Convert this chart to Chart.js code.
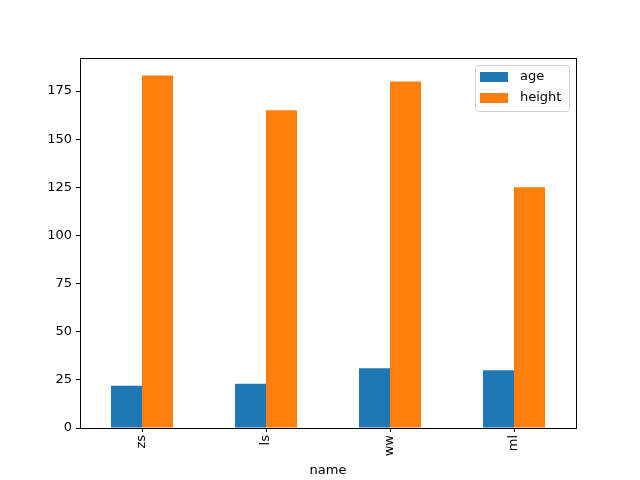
<!DOCTYPE html>
<html lang="en">
<head>
    <meta charset="UTF-8">
    <title>age / height by name</title>
    <script src="https://cdn.jsdelivr.net/npm/chart.js"></script>
    <style>
        html, body { margin: 0; padding: 0; background: #fff; }
    </style>
</head>
<body>
    <canvas id="barChart" width="640" height="480"></canvas>

    <script>
        const names = ['zs', 'ls', 'ww', 'ml'];
        const ages = [22, 23, 31, 30];
        const heights = [183, 165, 180, 125];
        const yTicks = [0, 25, 50, 75, 100, 125, 150, 175];

        const FONT = "'DejaVu Sans', sans-serif";

        // frame round the plot + legend box in the top right corner
        const framePlugin = {
            id: 'frame',
            afterDraw(chart) {
                const ctx = chart.ctx;
                const a = chart.chartArea;
                ctx.save();
                ctx.strokeStyle = '#000';
                ctx.lineWidth = 1;
                ctx.strokeRect(a.left + 0.5, a.top + 0.5, a.right - a.left, a.bottom - a.top);

                const boxW = 94, boxH = 46;
                const bx = a.right - 7 - boxW, by = a.top + 7;
                ctx.fillStyle = 'rgba(255,255,255,0.8)';
                ctx.strokeStyle = '#d0d0d0';
                ctx.beginPath();
                ctx.roundRect(bx + 0.5, by + 0.5, boxW, boxH, 3);
                ctx.fill();
                ctx.stroke();

                ctx.font = '13px ' + FONT;
                ctx.textBaseline = 'middle';
                chart.data.datasets.forEach((ds, i) => {
                    const y = by + 7 + i * 21;
                    ctx.fillStyle = ds.backgroundColor;
                    ctx.fillRect(bx + 5, y, 28, 10);
                    ctx.fillStyle = '#000';
                    ctx.fillText(ds.label, bx + 45, y + 5);
                });
                ctx.restore();
            }
        };

        new Chart(document.getElementById('barChart'), {
            type: 'bar',
            data: {
                labels: names,
                datasets: [
                    { label: 'age', data: ages, backgroundColor: '#1f77b4' },
                    { label: 'height', data: heights, backgroundColor: '#ff7f0e' }
                ]
            },
            options: {
                responsive: false,
                animation: false,
                devicePixelRatio: 1,
                layout: { padding: { left: 0, right: 64, top: 58, bottom: 0 } },
                datasets: { bar: { categoryPercentage: 0.5, barPercentage: 1.0 } },
                plugins: { legend: { display: false }, tooltip: { enabled: false } },
                scales: {
                    x: {
                        offset: true,
                        grid: { drawOnChartArea: false, drawTicks: true, tickLength: 4, color: '#000', offset: false },
                        border: { display: true, color: '#000' },
                        ticks: { color: '#000', font: { family: FONT, size: 13 }, minRotation: 90, maxRotation: 90, padding: 3 },
                        title: { display: true, text: 'name', color: '#000', font: { family: FONT, size: 13 }, padding: { top: 0, bottom: 2 } },
                        afterFit(scale) { scale.height = 52; }
                    },
                    y: {
                        min: 0,
                        max: 192.15,
                        grid: { drawOnChartArea: false, drawTicks: true, tickLength: 4, color: '#000' },
                        border: { display: true, color: '#000' },
                        ticks: { color: '#000', font: { family: FONT, size: 13 }, padding: 4 },
                        afterBuildTicks(scale) { scale.ticks = yTicks.map(v => ({ value: v })); },
                        afterFit(scale) { scale.width = 80; }
                    }
                }
            },
            plugins: [framePlugin]
        });
    </script>
</body>
</html>
